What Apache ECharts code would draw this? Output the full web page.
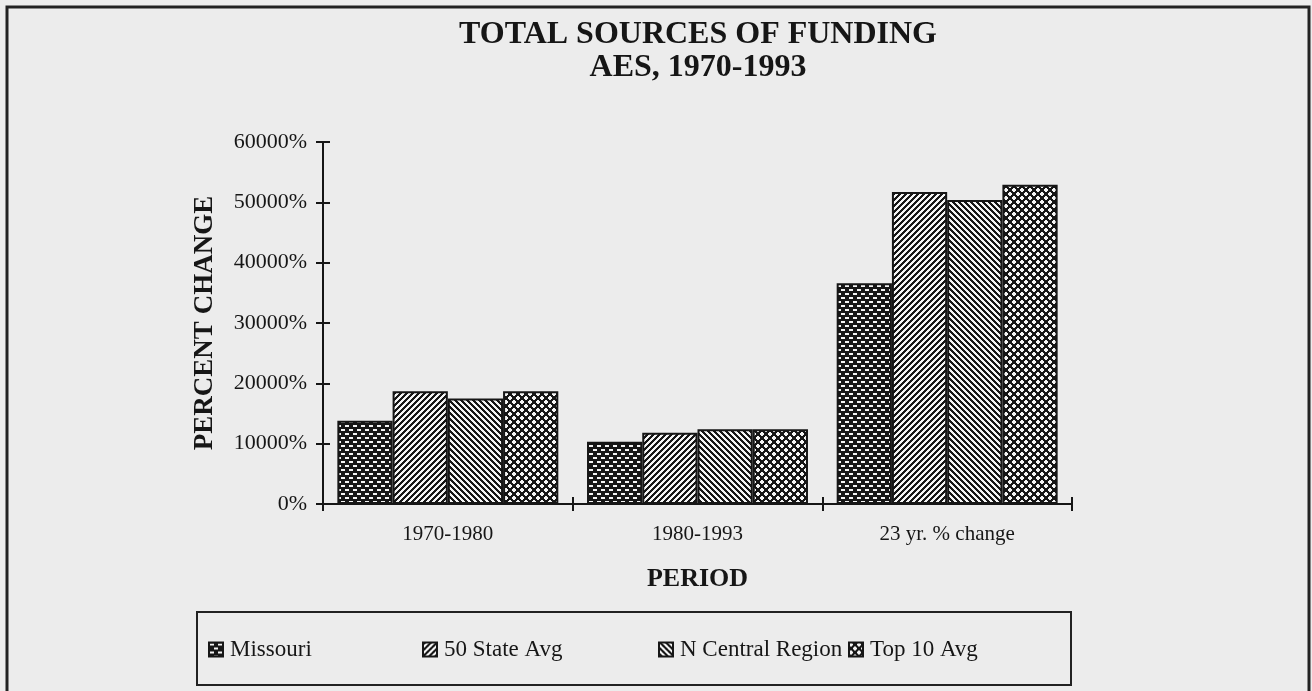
<!DOCTYPE html>
<html>
<head>
<meta charset="utf-8">
<script src="https://cdn.jsdelivr.net/npm/echarts@6/dist/echarts.min.js"></script>
<style>
html,body{margin:0;padding:0;background:#ececec;}
#chart{width:1312px;height:691px;}
</style>
</head>
<body>
<div id="chart"></div>
<script>
const categories = ['1970-1980', '1980-1993', '23 yr. % change'];
const seriesNames = ['Missouri', '50 State Avg', 'N Central Region', 'Top 10 Avg'];
const missouri = [13800, 10300, 36600];
const stateAvg = [18700, 11800, 51700];
const nCentral = [17500, 12400, 50400];
const top10 = [18700, 12400, 52900];
const yTicks = [0, 10000, 20000, 30000, 40000, 50000, 60000];

const INK = '#161616';
const BG = '#ececec';

function makeTile(w, h, fn) {
  const c = document.createElement('canvas');
  c.width = w; c.height = h;
  const ctx = c.getContext('2d');
  fn(ctx, w, h);
  return c;
}
// Missouri: dark with staggered white dashes
const patMissouri = makeTile(8, 8, (ctx) => {
  ctx.fillStyle = INK; ctx.fillRect(0, 0, 8, 8);
  ctx.fillStyle = '#f4f4f4';
  ctx.fillRect(1, 1, 4, 2);
  ctx.fillRect(5, 5, 3, 2); ctx.fillRect(0, 5, 1, 2);
});
// diagonal stripes
function stripes(dir) {
  return makeTile(6, 6, (ctx) => {
    for (let x = 0; x < 6; x++) for (let y = 0; y < 6; y++) {
      const k = dir > 0 ? ((x + y) % 6) : (((x - y) % 6) + 6) % 6;
      ctx.fillStyle = k < 3 ? INK : '#f4f4f4';
      ctx.fillRect(x, y, 1, 1);
    }
  });
}
const patState = stripes(1);
const patCentral = stripes(-1);
// Top 10: white plus shapes on dark
const patTop = makeTile(8, 8, (ctx) => {
  ctx.fillStyle = INK; ctx.fillRect(0, 0, 8, 8);
  ctx.fillStyle = '#f4f4f4';
  const centers = [[2, 2], [6, 6]];
  for (const [cx, cy] of centers) {
    for (const dx of [-8, 0, 8]) for (const dy of [-8, 0, 8]) {
      ctx.fillRect(cx + dx - 2, cy + dy - 1, 4, 2);
      ctx.fillRect(cx + dx - 1, cy + dy - 2, 2, 4);
    }
  }
});
const patterns = [patMissouri, patState, patCentral, patTop];
const values = [missouri, stateAvg, nCentral, top10];

const font = 'Liberation Serif, Times New Roman, serif';

const chart = echarts.init(document.getElementById('chart'));

const series = seriesNames.map((name, i) => ({
  name: name,
  type: 'bar',
  xAxisIndex: 0,
  yAxisIndex: 0,
  data: values[i],
  barGap: '0%',
  barCategoryGap: '11.5%',
  itemStyle: {
    color: { image: patterns[i], repeat: 'repeat' },
    borderColor: INK,
    borderWidth: 2
  },
  emphasis: { disabled: true },
  animation: false
}));

const legendX = [208, 422, 658, 848];
const legends = seriesNames.map((name, i) => ({
  data: [name],
  left: legendX[i],
  top: 638,
  orient: 'horizontal',
  icon: 'rect',
  itemWidth: 14,
  itemHeight: 14,
  itemGap: 0,
  padding: 0,
  selectedMode: false,
  textStyle: { fontFamily: font, fontSize: 23, color: INK, padding: [0, 0, 0, 2] }
}));

chart.setOption({
  backgroundColor: BG,
  animation: false,
  title: {
    text: 'TOTAL SOURCES OF FUNDING\nAES, 1970-1993',
    left: 693,
    textAlign: 'center',
    top: 13,
    textStyle: { fontFamily: font, fontSize: 32, fontWeight: 'bold', color: INK, lineHeight: 33 }
  },
  legend: legends,
  grid: { left: 323, right: 240, top: 142, bottom: 187, containLabel: false },
  xAxis: [{
    type: 'category',
    data: categories,
    position: 'bottom',
    axisLine: { lineStyle: { color: INK, width: 2 } },
    axisTick: { show: true, length: 7, lineStyle: { color: INK, width: 2 } },
    axisLabel: { fontFamily: font, fontSize: 21, color: INK, margin: 20 },
    name: 'PERIOD',
    nameLocation: 'middle',
    nameGap: 62,
    nameTextStyle: { fontFamily: font, fontSize: 26, fontWeight: 'bold', color: INK }
  }, {
    type: 'category',
    data: categories,
    position: 'bottom',
    axisLine: { show: false },
    axisTick: { show: true, inside: true, length: 7, lineStyle: { color: INK, width: 2 } },
    axisLabel: { show: false }
  }],
  yAxis: [{
    type: 'value',
    min: yTicks[0],
    max: yTicks[yTicks.length - 1],
    interval: yTicks[1] - yTicks[0],
    position: 'left',
    axisLine: { show: true, lineStyle: { color: INK, width: 2 } },
    axisTick: { show: true, length: 7, lineStyle: { color: INK, width: 2 } },
    splitLine: { show: false },
    axisLabel: { fontFamily: font, fontSize: 22, color: INK, margin: 16, formatter: (v) => String(v) + '%' },
    name: 'PERCENT CHANGE',
    nameLocation: 'middle',
    nameRotate: 90,
    nameGap: 104,
    nameTextStyle: { fontFamily: font, fontSize: 27, fontWeight: 'bold', color: INK }
  }, {
    type: 'value',
    min: yTicks[0],
    max: yTicks[yTicks.length - 1],
    interval: yTicks[1] - yTicks[0],
    position: 'left',
    axisLine: { show: false },
    axisTick: { show: true, inside: true, length: 7, lineStyle: { color: INK, width: 2 } },
    splitLine: { show: false },
    axisLabel: { show: false }
  }],
  graphic: [
    { type: 'rect', shape: { x: 7, y: 7, width: 1302, height: 700 }, style: { fill: 'none', stroke: '#222', lineWidth: 3 }, silent: true },
    { type: 'rect', shape: { x: 197, y: 612, width: 874, height: 73 }, style: { fill: 'none', stroke: '#222', lineWidth: 2 }, silent: true }
  ],
  series: series
});
</script>
</body>
</html>
